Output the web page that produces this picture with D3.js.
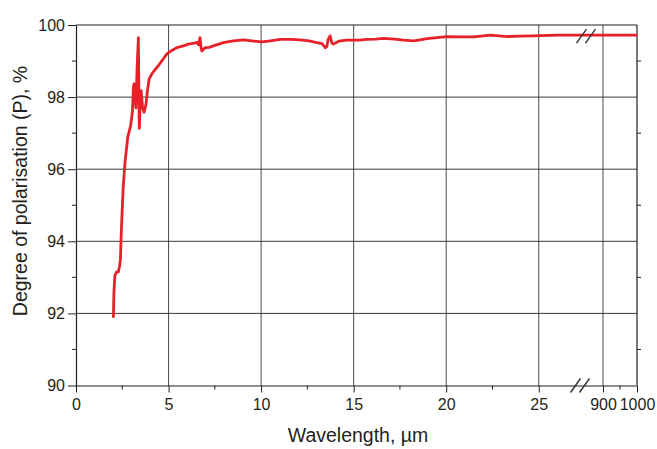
<!DOCTYPE html>
<html>
<head>
<meta charset="utf-8">
<script src="https://cdn.jsdelivr.net/npm/d3@7"></script>
<style>
  html, body { margin: 0; padding: 0; background: #fff; }
  svg { display: block; font-family: "Liberation Sans", Arial, sans-serif; }
</style>
</head>
<body>
<svg id="chart" width="657" height="449"></svg>
<script>
// ---- data ----
const wavelength = [2.02, 2.05, 2.1, 2.2, 2.29, 2.35, 2.4, 2.45, 2.55, 2.65, 2.8, 2.95, 3.05, 3.1, 3.14, 3.2, 3.24, 3.3, 3.37, 3.4, 3.42, 3.47, 3.52, 3.6, 3.68, 3.78, 3.86, 3.95, 4.09, 4.25, 4.45, 4.7, 4.9, 5.2, 5.44, 5.8, 6.07, 6.4, 6.55, 6.62, 6.7, 6.76, 6.8, 6.97, 7.2, 7.42, 7.96, 8.5, 9.05, 9.5, 10.04, 10.5, 11.03, 11.6, 12.1, 12.6, 13.0, 13.3, 13.46, 13.55, 13.62, 13.73, 13.82, 13.91, 14.2, 14.63, 15.35, 15.7, 16.2, 16.6, 17.2, 17.7, 18.24, 18.6, 18.96, 19.5, 20.04, 20.8, 21.5, 22.0, 22.4, 23.3, 24.0, 24.7, 25.5, 26.2, 27.66, 856, 1000];
const polarisation = [91.88, 92.6, 93.05, 93.15, 93.15, 93.3, 93.5, 94.3, 95.5, 96.2, 96.9, 97.2, 97.6, 98.27, 98.37, 97.9, 97.7, 98.8, 99.65, 98.0, 97.13, 97.8, 98.18, 97.7, 97.58, 97.8, 98.18, 98.5, 98.64, 98.75, 98.87, 99.05, 99.19, 99.3, 99.37, 99.42, 99.47, 99.5, 99.52, 99.45, 99.65, 99.35, 99.28, 99.37, 99.38, 99.42, 99.51, 99.56, 99.59, 99.56, 99.53, 99.56, 99.6, 99.6, 99.59, 99.56, 99.51, 99.48, 99.37, 99.4, 99.6, 99.7, 99.5, 99.47, 99.55, 99.58, 99.58, 99.6, 99.61, 99.63, 99.61, 99.58, 99.56, 99.59, 99.62, 99.65, 99.68, 99.67, 99.67, 99.7, 99.72, 99.68, 99.69, 99.7, 99.71, 99.72, 99.72, 99.72, 99.72];

const xMajorTicks = [0, 5, 10, 15, 20, 25, 900, 1000];
const xMinorTicks = [2.5, 7.5, 12.5, 17.5, 22.5, 950];
const xGrid = [5, 10, 15, 20, 25, 900];
const yMajorTicks = [90, 92, 94, 96, 98, 100];
const yMinorTicks = [91, 93, 95, 97, 99];
const yGrid = [92, 94, 96, 98];
const breakFrom = 27.66, breakTo = 856;   // broken x axis

const xTitle = "Wavelength, \u00b5m";
const yTitle = "Degree of polarisation (P), %";

// ---- layout ----
const L = 76, R = 637, T = 25, B = 385.5;
const xBreakPx = 588;

const svg = d3.select("#chart");
const x = d3.scaleLinear()
  .domain([0, breakFrom, breakTo, 1000])
  .range([L, xBreakPx, xBreakPx, R]);
const y = d3.scaleLinear().domain([90, 100]).range([B, T]);

const ink = "#231f20";

// grid
svg.append("g").selectAll("line").data(xGrid).join("line")
  .attr("x1", d => x(d)).attr("x2", d => x(d))
  .attr("y1", y(90)).attr("y2", y(100))
  .attr("stroke", "#4a4a4a").attr("stroke-width", 1);
svg.append("g").selectAll("line").data(yGrid).join("line")
  .attr("x1", L).attr("x2", R)
  .attr("y1", d => y(d)).attr("y2", d => y(d))
  .attr("stroke", "#3a3a3a").attr("stroke-width", 1);

// frame: top and right
svg.append("line").attr("x1", L).attr("x2", R).attr("y1", y(100)).attr("y2", y(100))
  .attr("stroke", ink).attr("stroke-width", 1.2);
svg.append("line").attr("x1", R).attr("x2", R).attr("y1", y(100)).attr("y2", y(90))
  .attr("stroke", ink).attr("stroke-width", 1.2);
// right minor ticks
svg.append("g").selectAll("line").data(yMinorTicks).join("line")
  .attr("x1", R).attr("x2", R + 4)
  .attr("y1", d => y(d)).attr("y2", d => y(d))
  .attr("stroke", ink);

// y axis
const yAxis = svg.append("g").attr("transform", `translate(${L},0)`)
  .call(d3.axisLeft(y).tickValues(yMajorTicks).tickSize(8).tickSizeOuter(0).tickPadding(3).tickFormat(d3.format("d")));
yAxis.select(".domain").attr("stroke", ink).attr("stroke-width", 1.2);
yAxis.selectAll(".tick line").attr("stroke", ink);
yAxis.selectAll(".tick text").attr("fill", ink).style("font-size", "16px")
  .style("font-family", "'Liberation Sans', Arial, sans-serif");
svg.append("g").selectAll("line").data(yMinorTicks).join("line")
  .attr("x1", L - 4).attr("x2", L)
  .attr("y1", d => y(d)).attr("y2", d => y(d))
  .attr("stroke", ink);

// x axis
const xAxis = svg.append("g").attr("transform", `translate(0,${B})`)
  .call(d3.axisBottom(x).tickValues(xMajorTicks).tickSize(7).tickSizeOuter(0).tickPadding(6).tickFormat(d3.format("d")));
xAxis.select(".domain").attr("stroke", ink).attr("stroke-width", 1.2);
xAxis.selectAll(".tick line").attr("stroke", ink);
xAxis.selectAll(".tick text").attr("fill", ink).style("font-size", "16px")
  .style("font-family", "'Liberation Sans', Arial, sans-serif");
svg.append("g").selectAll("line").data(xMinorTicks).join("line")
  .attr("x1", d => x(d)).attr("x2", d => x(d))
  .attr("y1", B).attr("y2", B + 4)
  .attr("stroke", ink);

// data line
const pts = wavelength.map((w, i) => [w, polarisation[i]]);
svg.append("path").datum(pts)
  .attr("fill", "none")
  .attr("stroke", "#e8202a")
  .attr("stroke-width", 2.8)
  .attr("stroke-linejoin", "round")
  .attr("d", d3.line().x(d => x(d[0])).y(d => y(d[1])));

// break marks
function breakMarks(cx, cy) {
  const g = svg.append("g");
  [-4.5, 4.5].forEach(off => {
    g.append("line")
      .attr("x1", cx + off - 5).attr("y1", cy + 7)
      .attr("x2", cx + off + 5).attr("y2", cy - 7)
      .attr("stroke", "#333").attr("stroke-width", 1.4);
  });
}
breakMarks(xBreakPx - 2, y(99.72) + 1);
breakMarks(xBreakPx - 8, B);

// titles
svg.append("text").attr("x", 358).attr("y", 442)
  .attr("text-anchor", "middle").attr("fill", ink)
  .style("font-size", "19.5px").text(xTitle);
svg.append("text")
  .attr("transform", "translate(27,191) rotate(-90)")
  .attr("text-anchor", "middle").attr("fill", ink)
  .style("font-size", "19.5px").text(yTitle);
</script>
</body>
</html>
